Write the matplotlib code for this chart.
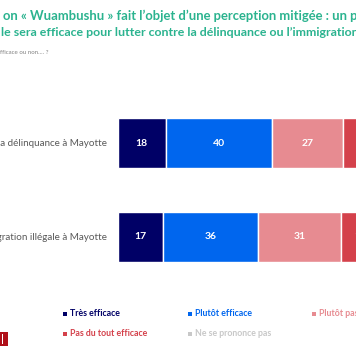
import numpy as np
import matplotlib.pyplot as plt
from matplotlib.patches import Rectangle

# Données (les deux dernières séries sont hors cadre, valeurs estimées)
questions = ["Lutter contre la délinquance à Mayotte",
             "Lutter contre l’immigration illégale à Mayotte"]
categories = ["Très efficace", "Plutôt efficace", "Plutôt pas efficace",
              "Pas du tout efficace", "Ne se prononce pas"]
tres_efficace = [18, 17]
plutot_efficace = [40, 36]
plutot_pas = [27, 31]
pas_du_tout = [14, 15]
nsp = [1, 1]
colors = ["#000066", "#0066ee", "#e78b91", "#d4414b", "#c8c8c8"]

title_l1 = "on « Wuambushu » fait l’objet d’une perception mitigée : un peu plus d’un Français sur deux"
title_l2 = "le sera efficace pour lutter contre la délinquance ou l’immigration illégale à Mayotte"
subtitle = "fficace ou non.... ?"

W, H = 356, 364
fig = plt.figure(figsize=(W / 100, H / 100), dpi=100)
fig.patch.set_facecolor("white")

# axe des barres, placé en pixels
x0, y_top, y_bot = 118, 118, 262
ax = fig.add_axes([x0 / W, 1 - y_bot / H, 265 / W, (y_bot - y_top) / H])
series = [tres_efficace, plutot_efficace, plutot_pas, pas_du_tout, nsp]
ypos = np.arange(len(questions))
left = np.zeros(len(questions))
for k, vals in enumerate(series):
    vals = np.array(vals, dtype=float)
    ax.barh(ypos, vals, left=left, height=0.532, color=colors[k],
            edgecolor="white", linewidth=1.0)
    if k < 4:
        for i, v in enumerate(vals):
            ax.text(left[i] + v / 2, ypos[i], f"{v:.0f}", ha="center",
                    va="center", color="white", fontsize=7.5,
                    fontweight="bold", family="Lato")
    left += vals
ax.set_xlim(0, 100)
ax.set_ylim(1.266, -0.266)
ax.axis("off")
for i, q in enumerate(questions):
    ax.text(-4.2, ypos[i], q, ha="right", va="center", color="#595959",
            fontsize=7.1, family="Lato")

# calque pour titre, légende, logo
ov = fig.add_axes([0, 0, 1, 1])
ov.set_xlim(0, W)
ov.set_ylim(H, 0)
ov.axis("off")
ov.patch.set_alpha(0)

teal = "#2bb38f"
ov.text(3, 16, title_l1, color=teal, fontsize=9.4, fontweight="bold",
        family="Lato", va="center", ha="left")
ov.text(1, 33, title_l2, color=teal, fontsize=8.9, fontweight="bold",
        family="Lato", va="center", ha="left")
ov.text(0, 53, subtitle, color="#808080", fontsize=4.4, family="Lato",
        va="center", ha="left")

leg_x = [65, 190, 314, 65, 190]
leg_y = [314, 314, 314, 334, 334]
for k, lab in enumerate(categories):
    ov.add_patch(Rectangle((leg_x[k] - 2, leg_y[k] - 2), 4, 4,
                           color=colors[k], lw=0))
    ov.text(leg_x[k] + 5, leg_y[k], lab, color=colors[k], fontsize=6.3,
            fontweight="bold", family="Lato", va="center", ha="left")

# logo rouge en bas à gauche
ov.add_patch(Rectangle((0, 332), 8, 14, color="#b0101a", lw=0))
ov.add_patch(Rectangle((2, 334), 1.2, 10, color="white", lw=0))

fig.savefig("out.png", dpi=100)
